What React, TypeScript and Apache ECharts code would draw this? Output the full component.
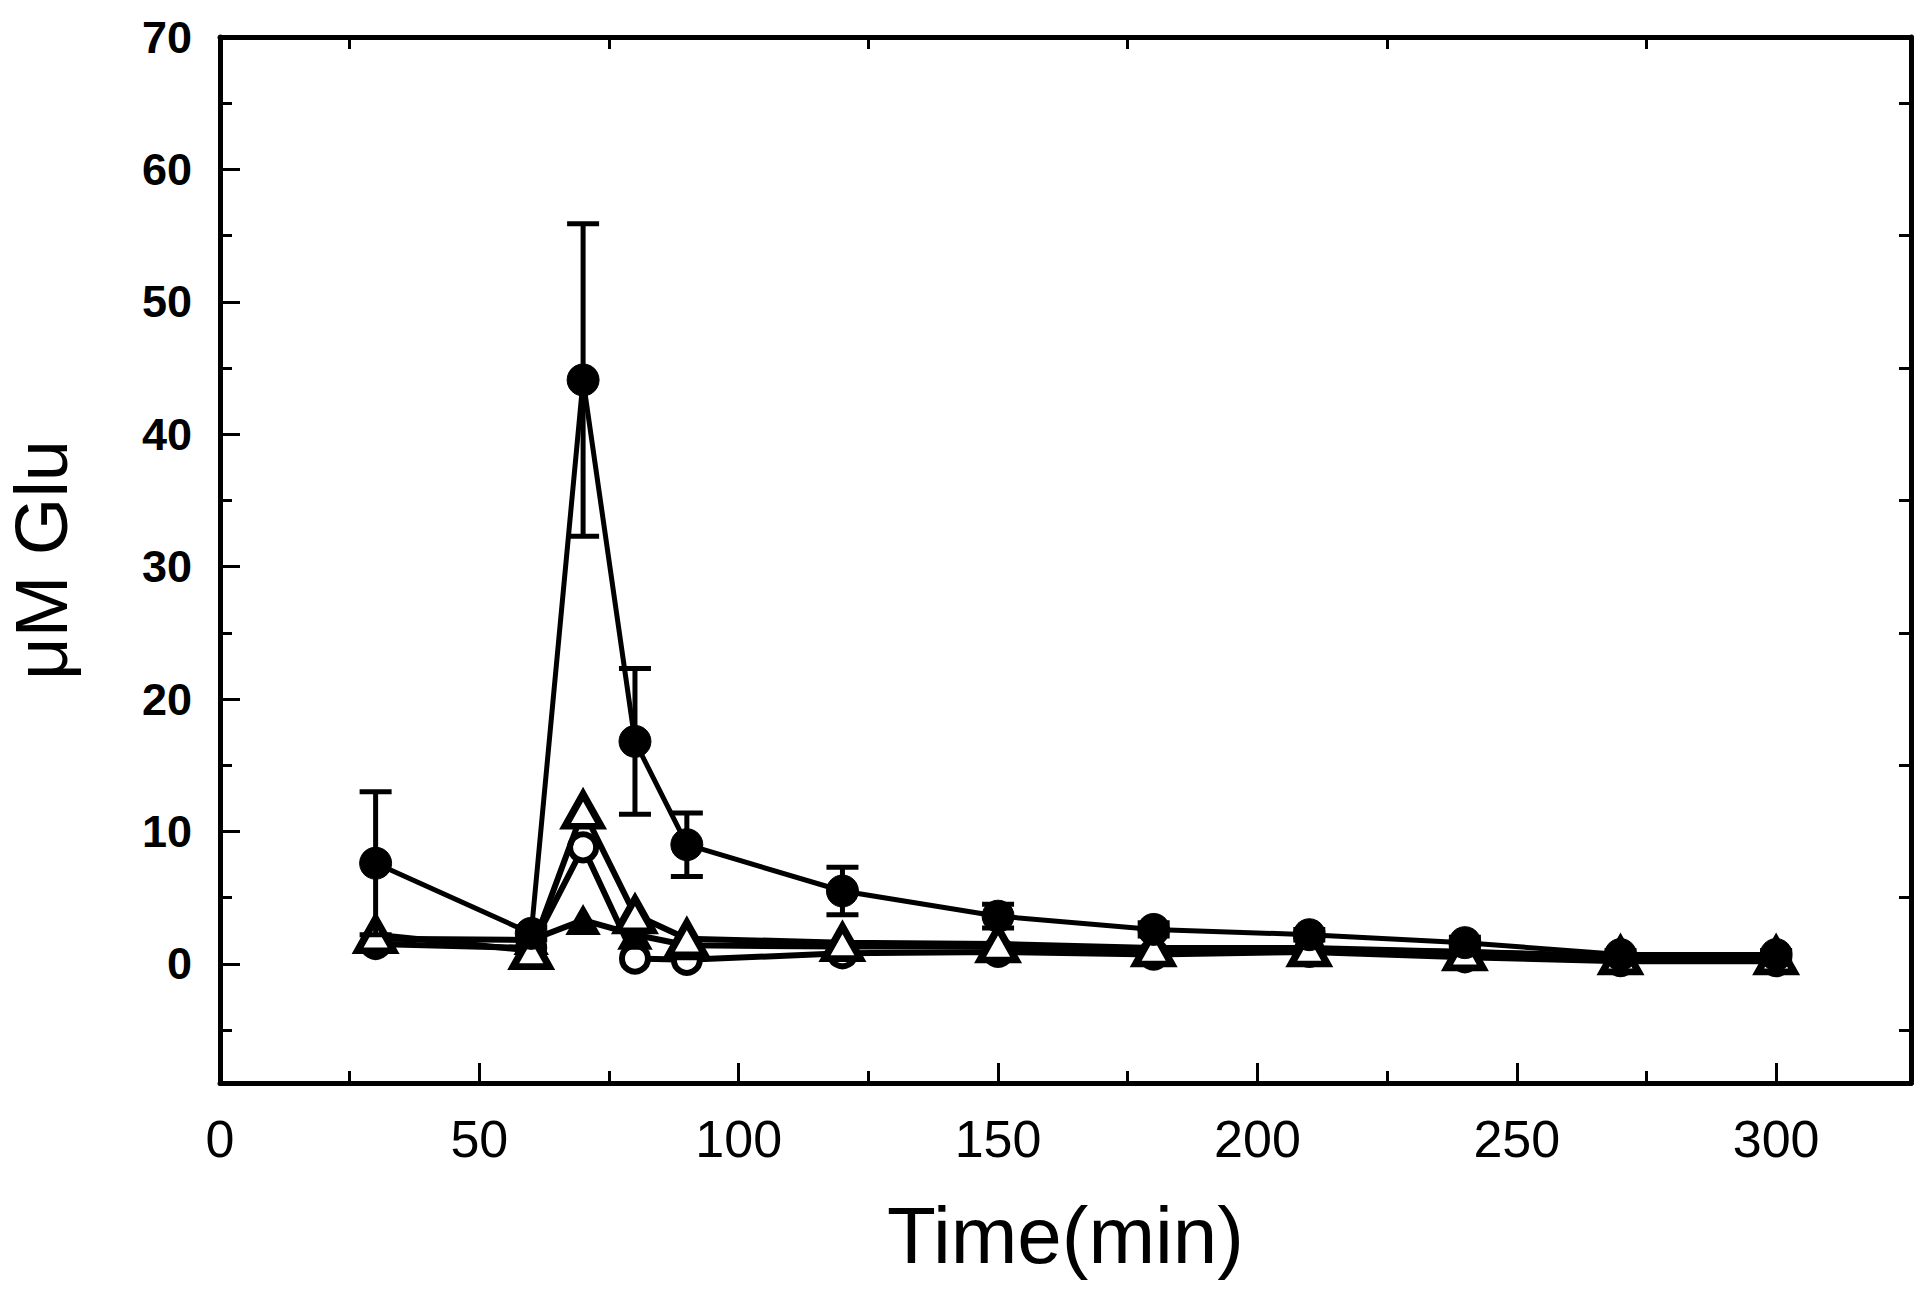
import React, { useEffect, useRef } from "react";
import * as echarts from "echarts";

const times = [30, 60, 70, 80, 90, 120, 150, 180, 210, 240, 270, 300];
const filledCircle = [7.6, 2.3, 44.1, 16.8, 9.0, 5.5, 3.6, 2.6, 2.2, 1.6, 0.7, 0.7];
const filledCircleErr = [5.4, 0.5, 11.8, 5.5, 2.4, 1.8, 0.9, 0.5, 0.4, 0.4, 0.3, 0.3];
const openTriangle = [2.2, 1.0, 11.6, 3.7, 1.9, 1.6, 1.5, 1.2, 1.2, 0.9, 0.6, 0.6];
const openCircle = [1.5, 1.2, 8.8, 0.4, 0.3, 0.8, 0.9, 0.7, 0.9, 0.5, 0.2, 0.2];
const filledTriangle = [1.9, 1.8, 3.3, 2.2, 1.4, 1.3, 1.3, 1.1, 1.1, 0.9, 0.5, 0.5];

const xLabelValues = [0, 50, 100, 150, 200, 250, 300];
const xMinorValues = [25, 75, 125, 175, 225, 275];
const yLabelValues = [0, 10, 20, 30, 40, 50, 60, 70];
const yMinorValues = [-5, 5, 15, 25, 35, 45, 55, 65];

const X_MIN = 0;
const X_MAX = 326;
const Y_MIN = -9;
const Y_MAX = 70;

const BLACK = "#000";

export default function App() {
  const ref = useRef<HTMLDivElement>(null);

  useEffect(() => {
    if (!ref.current) return;
    const chart = echarts.init(ref.current, null, { renderer: "svg" });

    const pairs = (vals: number[]) => times.map((t, i) => [t, vals[i]]);
    const errData = times.map((t, i) => [t, filledCircle[i], filledCircleErr[i]]);

    const hiddenAxisBase = {
      min: X_MIN,
      max: X_MAX,
      type: "value" as const,
      splitLine: { show: false },
    };

    const option: any = {
      animation: false,
      backgroundColor: "#fff",
      grid: {
        left: 220,
        right: 9,
        top: 37,
        bottom: 209,
        containLabel: false,
        outerBoundsMode: "none",
      },
      xAxis: [
        {
          ...hiddenAxisBase,
          position: "bottom",
          name: "Time(min)",
          nameLocation: "middle",
          nameGap: 112,
          nameTextStyle: {
            fontFamily: "'Liberation Sans Narrow', 'Liberation Sans', Arial, sans-serif",
            fontSize: 80,
            color: BLACK,
          },
          axisLine: { show: true, onZero: false, lineStyle: { color: BLACK, width: 5 } },
          axisTick: {
            show: true,
            inside: true,
            length: 20,
            customValues: xLabelValues,
            lineStyle: { color: BLACK, width: 3 },
          },
          axisLabel: {
            show: true,
            customValues: xLabelValues,
            margin: 30,
            fontFamily: "'Liberation Sans Narrow', 'Liberation Sans', Arial, sans-serif",
            fontSize: 52,
            color: BLACK,
          },
        },
        {
          ...hiddenAxisBase,
          position: "bottom",
          axisLine: { show: false, onZero: false },
          axisTick: {
            show: true,
            inside: true,
            length: 12,
            customValues: xMinorValues,
            lineStyle: { color: BLACK, width: 3 },
          },
          axisLabel: { show: false },
        },
        {
          ...hiddenAxisBase,
          position: "top",
          axisLine: { show: true, onZero: false, lineStyle: { color: BLACK, width: 5 } },
          axisTick: {
            show: true,
            inside: true,
            length: 12,
            customValues: xMinorValues,
            lineStyle: { color: BLACK, width: 3 },
          },
          axisLabel: { show: false },
        },
      ],
      yAxis: [
        {
          type: "value",
          min: Y_MIN,
          max: Y_MAX,
          position: "left",
          name: "μM Glu",
          nameLocation: "middle",
          nameGap: 142,
          nameRotate: 90,
          nameTextStyle: {
            fontFamily: "'Liberation Sans', Arial, sans-serif",
            fontSize: 74,
            lineHeight: 74,
            color: BLACK,
          },
          splitLine: { show: false },
          axisLine: { show: true, onZero: false, lineStyle: { color: BLACK, width: 5 } },
          axisTick: {
            show: true,
            inside: true,
            length: 20,
            customValues: yLabelValues,
            lineStyle: { color: BLACK, width: 3 },
          },
          axisLabel: {
            show: true,
            customValues: yLabelValues,
            margin: 28,
            fontFamily: "'Liberation Sans', Arial, sans-serif",
            fontWeight: "bold",
            fontSize: 45,
            color: BLACK,
          },
        },
        {
          type: "value",
          min: Y_MIN,
          max: Y_MAX,
          position: "left",
          splitLine: { show: false },
          axisLine: { show: false, onZero: false },
          axisTick: {
            show: true,
            inside: true,
            length: 12,
            customValues: yMinorValues,
            lineStyle: { color: BLACK, width: 3 },
          },
          axisLabel: { show: false },
        },
        {
          type: "value",
          min: Y_MIN,
          max: Y_MAX,
          position: "right",
          splitLine: { show: false },
          axisLine: { show: true, onZero: false, lineStyle: { color: BLACK, width: 5 } },
          axisTick: {
            show: true,
            inside: true,
            length: 12,
            customValues: yMinorValues,
            lineStyle: { color: BLACK, width: 3 },
          },
          axisLabel: { show: false },
        },
      ],
      series: [
        {
          name: "openCircle",
          type: "line",
          data: pairs(openCircle),
          symbol: "circle",
          symbolSize: 26,
          z: 2,
          lineStyle: { color: BLACK, width: 6 },
          itemStyle: { color: "#fff", borderColor: BLACK, borderWidth: 6 },
        },
        {
          name: "filledTriangle",
          type: "line",
          data: pairs(filledTriangle),
          symbol: "triangle",
          symbolSize: [32, 28],
          z: 3,
          lineStyle: { color: BLACK, width: 6 },
          itemStyle: { color: BLACK, borderColor: BLACK, borderWidth: 2 },
        },
        {
          name: "openTriangle",
          type: "line",
          data: pairs(openTriangle),
          symbol: "triangle",
          symbolSize: [36, 32],
          z: 4,
          lineStyle: { color: BLACK, width: 6 },
          itemStyle: { color: "#fff", borderColor: BLACK, borderWidth: 7 },
        },
        {
          name: "errorBars",
          type: "custom",
          z: 5,
          data: errData,
          renderItem: (params: any, api: any) => {
            const x = api.value(0);
            const y = api.value(1);
            const e = api.value(2);
            const top = api.coord([x, y + e]);
            const bot = api.coord([x, y - e]);
            const cw = 16;
            const st = { stroke: BLACK, lineWidth: 5 };
            return {
              type: "group",
              children: [
                { type: "line", shape: { x1: top[0], y1: top[1], x2: bot[0], y2: bot[1] }, style: st },
                { type: "line", shape: { x1: top[0] - cw, y1: top[1], x2: top[0] + cw, y2: top[1] }, style: st },
                { type: "line", shape: { x1: bot[0] - cw, y1: bot[1], x2: bot[0] + cw, y2: bot[1] }, style: st },
              ],
            };
          },
        },
        {
          name: "filledCircle",
          type: "line",
          data: pairs(filledCircle),
          symbol: "circle",
          symbolSize: 32,
          z: 6,
          lineStyle: { color: BLACK, width: 5 },
          itemStyle: { color: BLACK, borderColor: BLACK, borderWidth: 1 },
        },
      ],
    };

    chart.setOption(option);
    return () => chart.dispose();
  }, []);

  return (
    <div
      ref={ref}
      style={{ position: "fixed", left: 0, top: 0, width: 1920, height: 1292, background: "#fff" }}
    />
  );
}
